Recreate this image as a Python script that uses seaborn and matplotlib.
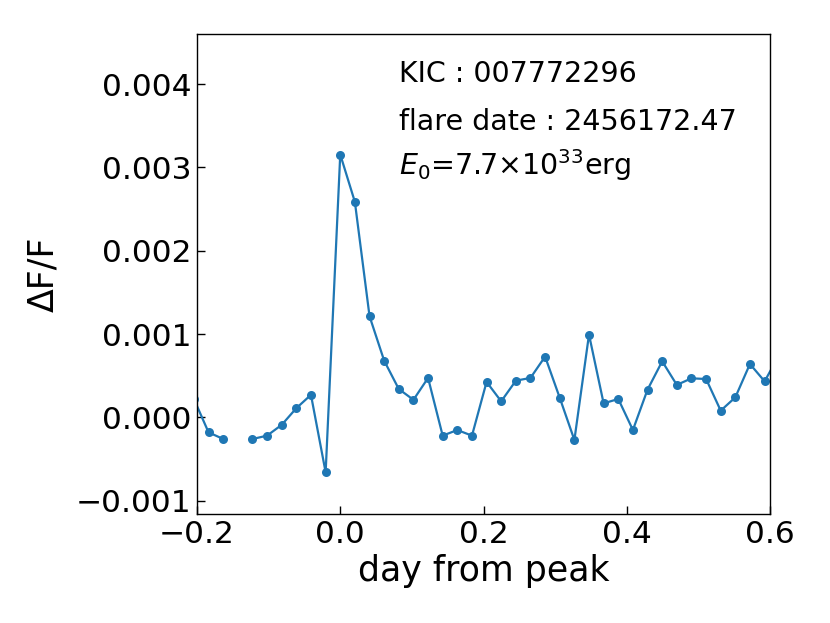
import numpy as np
import pandas as pd
import matplotlib
matplotlib.use("Agg")
import matplotlib.pyplot as plt
import seaborn as sns

# days from flare peak (Kepler long cadence), -0.143 missing -> gap
days = [-0.2043, -0.1839, -0.1634, -0.1430, -0.1226, -0.1022, -0.0817, -0.0613,
        -0.0409, -0.0204, 0.0000, 0.0204, 0.0409, 0.0613, 0.0817, 0.1022,
        0.1226, 0.1430, 0.1634, 0.1839, 0.2043, 0.2247, 0.2452, 0.2656,
        0.2860, 0.3065, 0.3269, 0.3473, 0.3677, 0.3882, 0.4086, 0.4290,
        0.4495, 0.4699, 0.4903, 0.5108, 0.5312, 0.5516, 0.5720, 0.5925, 0.6129]
dflux = [0.00022, -0.00018, -0.00026, np.nan, -0.00026, -0.00022, -0.00009, 0.00011,
         0.00027, -0.00066, 0.003154, 0.002586, 0.001213, 0.00068, 0.00034, 0.00021,
         0.000473, -0.00022, -0.000152, -0.00022, 0.000425, 0.000192, 0.00044, 0.000473,
         0.000729, 0.000233, -0.000272, 0.000993, 0.000168, 0.00022, -0.000152, 0.000332,
         0.000672, 0.000389, 0.000468, 0.00046, 0.00008, 0.00024, 0.00064, 0.000432, 0.00075]
xticks = [-0.2, 0.0, 0.2, 0.4, 0.6]
yticks = [-0.001, 0.0, 0.001, 0.002, 0.003, 0.004]
info_lines = ["KIC : 007772296", "flare date : 2456172.47", r"$E_0$=7.7$\times$10$^{33}$erg"]

df = pd.DataFrame({"day": days, "dF": dflux})
df["seg"] = np.cumsum(df["dF"].isna().astype(int))
df = df.dropna()

fig = plt.figure(figsize=(8.3, 6.23), dpi=100)
ax = fig.add_axes([197/830, 1 - 514/623, (770 - 197)/830, (514 - 34)/623])

sns.lineplot(data=df, x="day", y="dF", units="seg", estimator=None, ax=ax,
             color="#1f77b4", marker="o", markersize=6.5, markeredgewidth=0,
             linewidth=1.6, sort=False, legend=False)

ax.set_xlim(-0.2, 0.6)
ax.set_ylim(-0.00116, 0.0046)
ax.set_xticks(xticks)
ax.set_yticks(yticks)
ax.set_xticklabels([f"{t:.1f}".replace("-", "\u2212") for t in xticks])
ax.set_yticklabels([f"{t:.3f}".replace("-", "\u2212") for t in yticks])
ax.tick_params(direction="in", length=5.5, width=1, labelsize=22.5, pad=4,
               top=False, right=False)
for s in ax.spines.values():
    s.set_linewidth(1)
    s.set_color("black")

ax.set_xlabel("day from peak", fontsize=25, labelpad=4)
ax.set_ylabel("\u0394F/F", fontsize=25, labelpad=11)

ys = [0.90, 0.80, 0.706]
for t, yy in zip(info_lines, ys):
    ax.text(0.353, yy, t, transform=ax.transAxes, fontsize=20.5, va="baseline", ha="left")

fig.savefig("out.png", dpi=100)
